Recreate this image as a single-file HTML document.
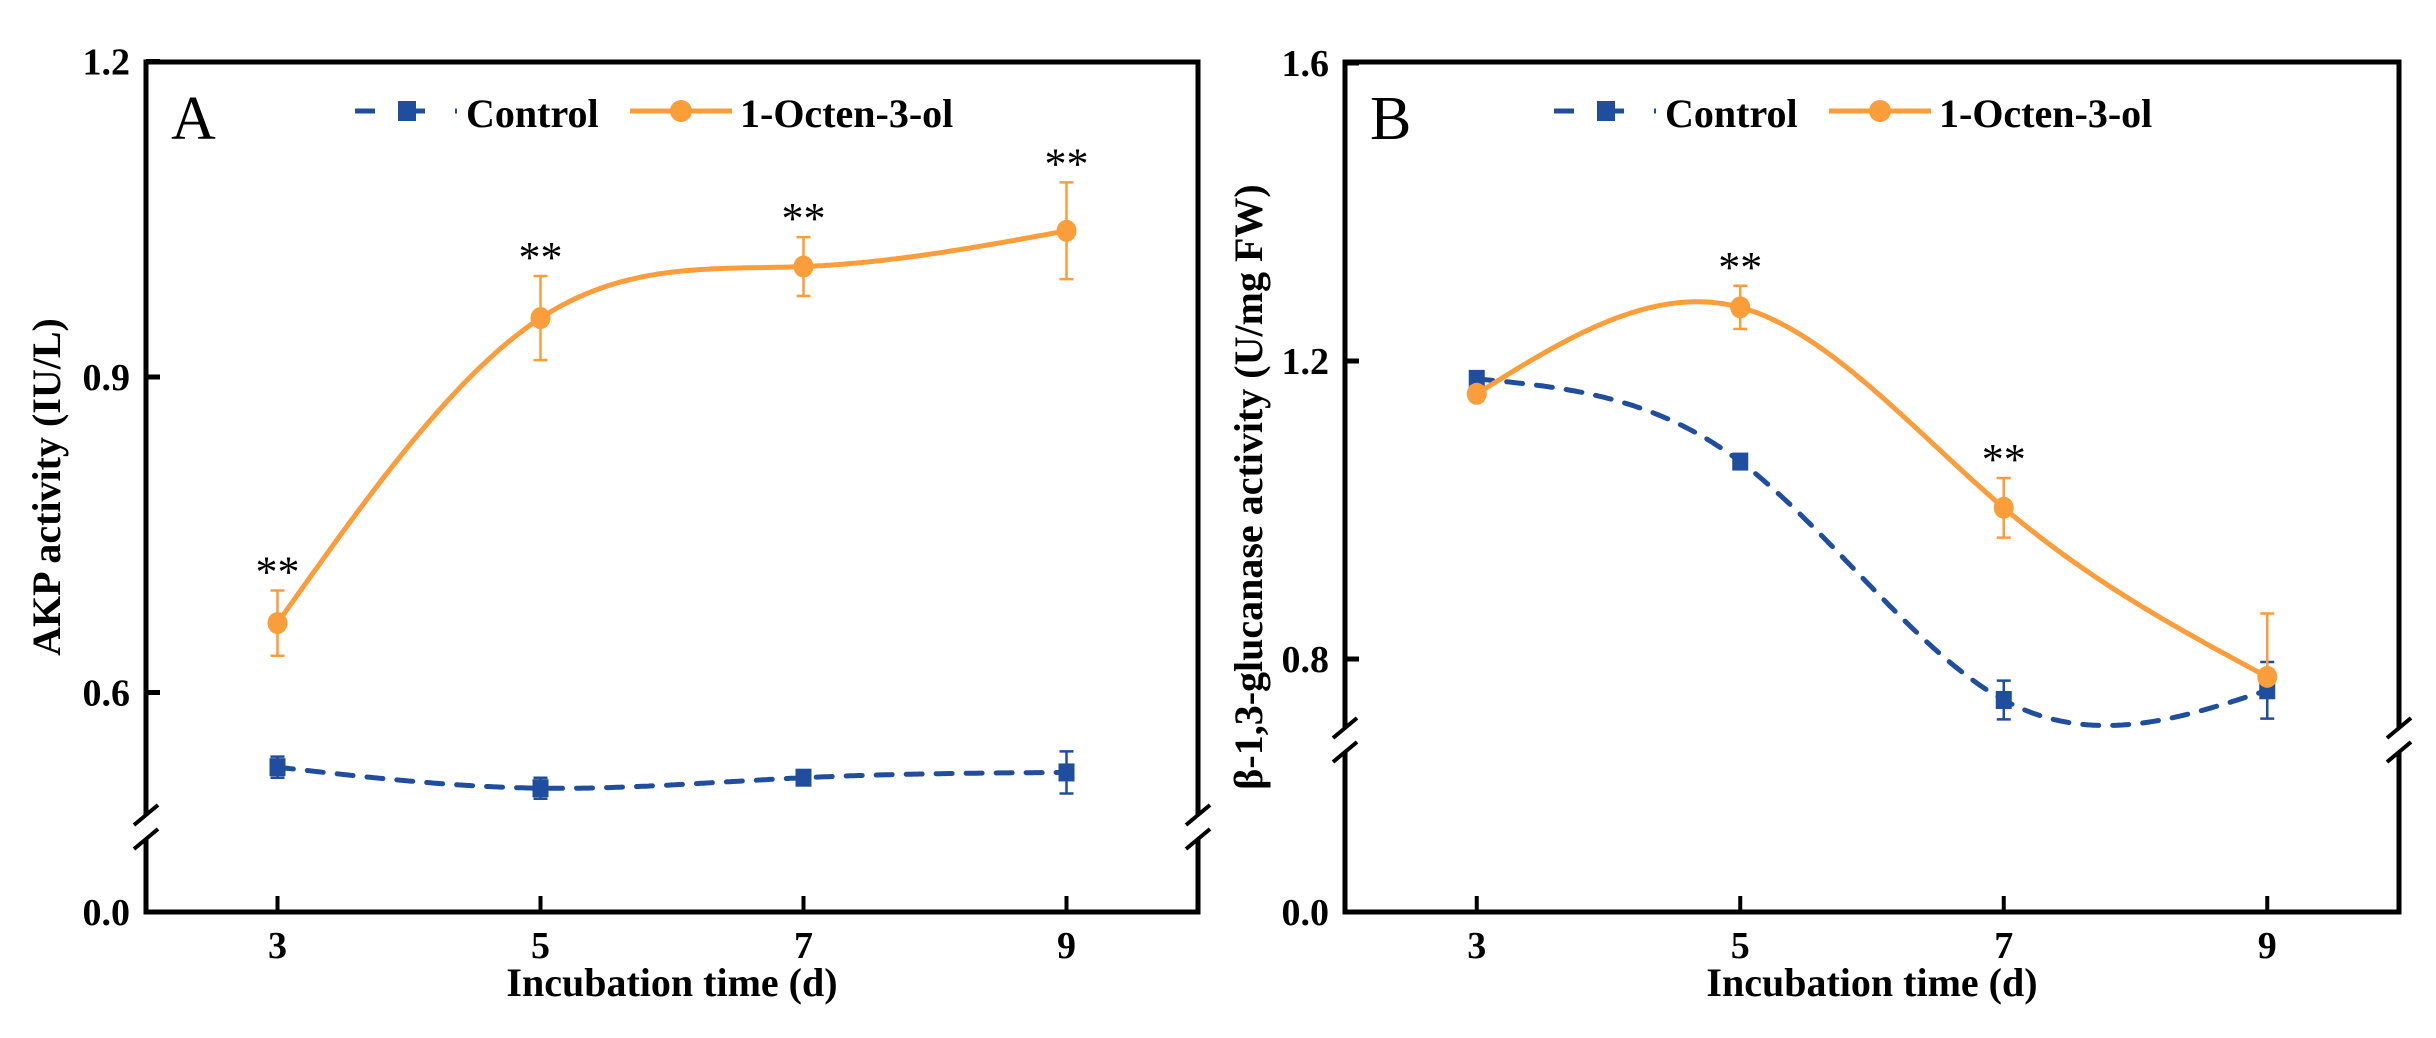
<!DOCTYPE html>
<html><head><meta charset="utf-8"><style>
html,body{margin:0;padding:0;background:#fff;}
svg{display:block;font-family:"Liberation Serif",serif;}
</style></head><body>
<svg id="chart" width="2436" height="1038" viewBox="0 0 2436 1038" xmlns="http://www.w3.org/2000/svg"></svg>
<script>
const days = [3, 5, 7, 9];
const aControl = [0.529, 0.509, 0.519, 0.524];
const aControlErr = [0.010, 0.010, 0.006, 0.020];
const aOcten = [0.666, 0.956, 1.005, 1.039];
const aOctenErr = [0.031, 0.040, 0.028, 0.046];
const aOctenErrLow = [0.031, 0.040, 0.028, 0.046];
const aStars = ["**", "**", "**", "**"];
const aTicks = ["0.0", "0.6", "0.9", "1.2"];
const bControl = [1.176, 1.065, 0.745, 0.758];
const bControlErr = [0.008, 0.006, 0.026, 0.038];
const bOcten = [1.156, 1.272, 1.003, 0.776];
const bOctenErr = [0.010, 0.029, 0.040, 0.085];
const bOctenErrLow = [0.010, 0.029, 0.040, 0.0];
const bStars = ["", "**", "**", ""];
const bTicks = ["0.0", "0.8", "1.2", "1.6"];
const xTicks = ["3", "5", "7", "9"];

const NS = "http://www.w3.org/2000/svg";
const svg = document.getElementById('chart');
const BLUE = "#1f4e9f", ORANGE = "#fb9d3a";
function mk(tag, attrs, parent, text){
  const e = document.createElementNS(NS, tag);
  for (const k in attrs) e.setAttribute(k, attrs[k]);
  if (text !== undefined) e.textContent = text;
  (parent || svg).appendChild(e);
  return e;
}
function spline(xs, ys){
  const n = xs.length, h = [], al = [], l = [1], mu = [0], z = [0], c = new Array(n).fill(0), b = [], d = [];
  for (let i = 0; i < n - 1; i++) h.push(xs[i+1] - xs[i]);
  for (let i = 1; i < n - 1; i++) al[i] = 3/h[i]*(ys[i+1]-ys[i]) - 3/h[i-1]*(ys[i]-ys[i-1]);
  for (let i = 1; i < n - 1; i++){ l[i] = 2*(xs[i+1]-xs[i-1]) - h[i-1]*mu[i-1]; mu[i] = h[i]/l[i]; z[i] = (al[i]-h[i-1]*z[i-1])/l[i]; }
  for (let j = n - 2; j >= 0; j--){ c[j] = (z[j]||0) - (mu[j]||0)*c[j+1]; b[j] = (ys[j+1]-ys[j])/h[j] - h[j]*(c[j+1]+2*c[j])/3; d[j] = (c[j+1]-c[j])/(3*h[j]); }
  return function(x){ let i = 0; while (i < n - 2 && x > xs[i+1]) i++; const t = x - xs[i]; return ys[i] + b[i]*t + c[i]*t*t + d[i]*t*t*t; };
}

function panel(cfg){
  const g = mk('g', {}, svg);
  
  
  const L = cfg.left, R = cfg.right, T = 62, B = 912;
  const xs = d => L + (d - 2) / 8 * (R - L);
  const ys = v => cfg.refY - (v - cfg.refV) * cfg.scale;
  function series(vals, errs, errsLow, color, dashed, marker, nm){
    const f = spline(days, vals);
    let p = "";
    for (let x = days[0]; x <= days[days.length-1] + 1e-9; x += 0.02) p += (p ? "L" : "M") + xs(x).toFixed(1) + "," + ys(f(x)).toFixed(1);
    const ln = mk('path', {d: p, fill: 'none', stroke: color, 'stroke-width': 5, 'stroke-dasharray': dashed ? '16 14' : 'none', 'stroke-linecap': 'round'}, g);
    
    
    days.forEach((d, i) => {
      const x = xs(d), y = ys(vals[i]), yt = ys(vals[i] + errs[i]), yb = ys(vals[i] - errsLow[i]);
      let dd = `M${x},${yt}V${yb}M${x-7},${yt}H${x+7}`;
      if (errsLow[i] > 0) dd += `M${x-7},${yb}H${x+7}`;
      const eb = mk('path', {d: dd, stroke: color, 'stroke-width': 2.5, fill: 'none'}, g);
      
      
      let m;
      if (marker === 'sq') m = mk('rect', {x: x-8, y: y-9, width: 16, height: 18, fill: color}, g);
      else m = mk('ellipse', {cx: x, cy: y, rx: 10, ry: 11, fill: color}, g);
      
      
    });
  }
  series(cfg.control, cfg.controlErr, cfg.controlErr, BLUE, true, 'sq', 'control');
  series(cfg.octen, cfg.octenErr, cfg.octenErrLow, ORANGE, false, 'ci', 'octen');
  days.forEach((d, i) => {
    if (!cfg.stars[i]) return;
    const t = mk('text', {x: xs(d), y: ys(cfg.octen[i] + cfg.octenErr[i]) - 4, 'font-size': 44, 'text-anchor': 'middle'}, g, cfg.stars[i]);
    
    
  });
  const fr = mk('rect', {x: L, y: T, width: R - L, height: B - T, fill: 'none', stroke: '#000', 'stroke-width': 5}, g);
  
  
  [L, R].forEach(ax => {
    mk('rect', {x: ax - 6, y: cfg.breakY - 12, width: 12, height: 24, fill: '#fff'}, g);
    const br = mk('path', {d: `M${ax-12},${cfg.breakY-2}L${ax+12},${cfg.breakY-22}M${ax-12},${cfg.breakY+22}L${ax+12},${cfg.breakY+2}`, stroke: '#000', 'stroke-width': 4}, g);
    
    
  });
  cfg.yTicks.forEach(lab => {
    const v = parseFloat(lab);
    const y = v === 0 ? B : ys(v);
    if (v !== 0) mk('path', {d: `M${L},${y}H${L+14}`, stroke: '#000', 'stroke-width': 5}, g);
    const t = mk('text', {x: L - 16, y: y + 13, 'font-size': 38, 'font-weight': 'bold', 'text-anchor': 'end'}, g, lab);
    
    
  });
  xTicks.forEach(lab => {
    const x = xs(parseFloat(lab));
    mk('path', {d: `M${x},${B}V${B-16}`, stroke: '#000', 'stroke-width': 4}, g);
    const t = mk('text', {x: x, y: 958, 'font-size': 38, 'font-weight': 'bold', 'text-anchor': 'middle'}, g, lab);
    
    
  });
  const xt = mk('text', {x: (L + R) / 2, y: 996, 'font-size': 40, 'font-weight': 'bold', 'text-anchor': 'middle'}, g, 'Incubation time (d)');
  
  
  const yt = mk('text', {x: 0, y: 0, 'font-size': 40, 'font-weight': 'bold', 'text-anchor': 'middle', transform: `translate(${cfg.yTitleX},487) rotate(-90)`}, g, cfg.yTitle);
  
  
  const pl = mk('text', {x: L + 25, y: 139, 'font-size': 62}, g, cfg.letter);
  
  
  const lx = L + 209, ly = 111;
  const lg = mk('g', {}, g);
  
  
  mk('path', {d: `M${lx},${ly}H${lx+102}`, stroke: BLUE, 'stroke-width': 5, 'stroke-dasharray': '20 30'}, lg);
  mk('rect', {x: lx + 43, y: ly - 10, width: 18, height: 20, fill: BLUE}, lg);
  const t1 = mk('text', {x: lx + 111, y: ly + 16, 'font-size': 40, 'font-weight': 'bold'}, lg, 'Control');
  
  
  mk('path', {d: `M${lx+275},${ly}H${lx+377}`, stroke: ORANGE, 'stroke-width': 5}, lg);
  mk('circle', {cx: lx + 326, cy: ly, r: 11, fill: ORANGE}, lg);
  const t2 = mk('text', {x: lx + 385, y: ly + 16, 'font-size': 40, 'font-weight': 'bold'}, lg, '1-Octen-3-ol');
  
  
}

panel({name: 'panel-a-akp', left: 146, right: 1198, refY: 692.5, refV: 0.6, scale: 1051.7, breakY: 827,
  control: aControl, controlErr: aControlErr, octen: aOcten, octenErr: aOctenErr, octenErrLow: aOctenErrLow, stars: aStars, yTicks: aTicks,
  yTitle: 'AKP activity (IU/L)', yTitleX: 60, letter: 'A'});
panel({name: 'panel-b-glucanase', left: 1345, right: 2399, refY: 659, refV: 0.8, scale: 745, breakY: 740,
  control: bControl, controlErr: bControlErr, octen: bOcten, octenErr: bOctenErr, octenErrLow: bOctenErrLow, stars: bStars, yTicks: bTicks,
  yTitle: 'β-1,3-glucanase activity (U/mg FW)', yTitleX: 1262, letter: 'B'});
</script>
</body></html>
